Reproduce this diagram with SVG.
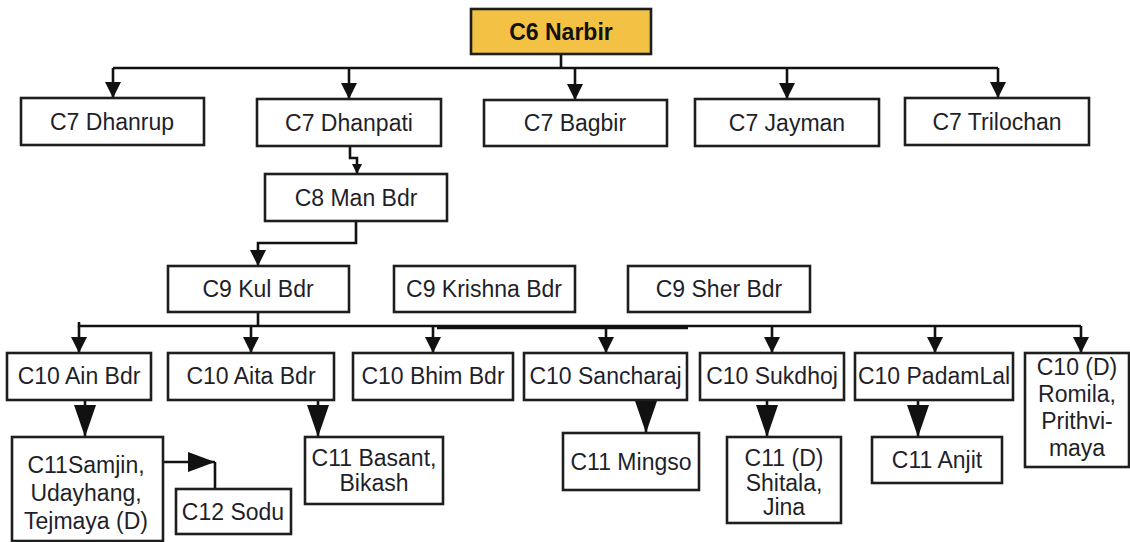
<svg xmlns="http://www.w3.org/2000/svg" width="1130" height="542" viewBox="0 0 1130 542">
<style>
.box{fill:#fff;stroke:#1e1e1e;stroke-width:2.6}
.root{fill:#F3C244;stroke:#1e1e1e;stroke-width:2.6}
.t{font-family:"Liberation Sans",Arial,sans-serif;font-size:23px;fill:#1f1f2a;text-anchor:middle}
.b{font-weight:bold;fill:#111}
.ln{fill:none;stroke:#111;stroke-width:2.6}
</style>
<defs>
<marker id="aM" markerUnits="userSpaceOnUse" markerWidth="16" markerHeight="16" viewBox="0 0 16 16" refX="16" refY="8" orient="auto"><path d="M0,0 L16,8 L0,16 z" fill="#111"/></marker>
<marker id="aS" markerUnits="userSpaceOnUse" markerWidth="10" markerHeight="10" viewBox="0 0 10 10" refX="10" refY="5" orient="auto"><path d="M0,0 L10,5 L0,10 z" fill="#111"/></marker>
<marker id="aL" markerUnits="userSpaceOnUse" markerWidth="32" markerHeight="22" viewBox="0 0 32 22" refX="32" refY="11" orient="auto"><path d="M0,0 L32,11 L0,22 z" fill="#111"/></marker>
<marker id="aR" markerUnits="userSpaceOnUse" markerWidth="27" markerHeight="20" viewBox="0 0 27 20" refX="27" refY="10" orient="auto"><path d="M0,0 L27,10 L0,20 z" fill="#111"/></marker>
</defs>
<rect width="1130" height="542" fill="#fff"/>
<g id="connectors">
<path class="ln" d="M561,54 V68 M113,68 H998"/>
<path class="ln" d="M113,68 V98" marker-end="url(#aM)"/>
<path class="ln" d="M349,68 V99" marker-end="url(#aM)"/>
<path class="ln" d="M575,68 V100" marker-end="url(#aM)"/>
<path class="ln" d="M787,68 V99" marker-end="url(#aM)"/>
<path class="ln" d="M998,68 V98" marker-end="url(#aM)"/>
<path class="ln" d="M350,146 V158 H357 V174" marker-end="url(#aS)"/>
<path class="ln" d="M356,221 V243 H258 V266" marker-end="url(#aM)"/>
<path class="ln" d="M258,312 V326 M79,322 V326 H1081"/>
<path class="ln" d="M437,328 H688" stroke-width="2"/>
<path class="ln" d="M79,326 V353" marker-end="url(#aM)"/>
<path class="ln" d="M251,326 V353" marker-end="url(#aM)"/>
<path class="ln" d="M433,326 V353" marker-end="url(#aM)"/>
<path class="ln" d="M606,326 V353" marker-end="url(#aM)"/>
<path class="ln" d="M772,326 V353" marker-end="url(#aM)"/>
<path class="ln" d="M935,326 V353" marker-end="url(#aM)"/>
<path class="ln" d="M1081,326 V353" marker-end="url(#aM)"/>
<path class="ln" d="M85,400 V437" marker-end="url(#aL)"/>
<path class="ln" d="M318,400 V437" marker-end="url(#aL)"/>
<path class="ln" d="M646,400 V433" marker-end="url(#aL)"/>
<path class="ln" d="M767,400 V437" marker-end="url(#aL)"/>
<path class="ln" d="M918,400 V437" marker-end="url(#aL)"/>
<path class="ln" d="M147,462 H215" marker-end="url(#aR)"/>
<path class="ln" d="M215,462 V489"/>
</g>
<g id="c6-narbir"><rect class="root" x="471" y="9" width="180" height="45"/><text class="t b" x="561" y="40">C6 Narbir</text></g>
<g id="c7-dhanrup"><rect class="box" x="21" y="98" width="183" height="47"/><text class="t" x="112" y="130">C7 Dhanrup</text></g>
<g id="c7-dhanpati"><rect class="box" x="257" y="99" width="184" height="47"/><text class="t" x="349" y="131">C7 Dhanpati</text></g>
<g id="c7-bagbir"><rect class="box" x="484" y="100" width="183" height="46"/><text class="t" x="575" y="131">C7 Bagbir</text></g>
<g id="c7-jayman"><rect class="box" x="695" y="99" width="184" height="47"/><text class="t" x="787" y="131">C7 Jayman</text></g>
<g id="c7-trilochan"><rect class="box" x="905" y="98" width="184" height="47"/><text class="t" x="997" y="130">C7 Trilochan</text></g>
<g id="c8-manbdr"><rect class="box" x="265" y="174" width="182" height="47"/><text class="t" x="356" y="206">C8 Man Bdr</text></g>
<g id="c9-kulbdr"><rect class="box" x="168" y="266" width="181" height="46"/><text class="t" x="258" y="297">C9 Kul Bdr</text></g>
<g id="c9-krishnabdr"><rect class="box" x="394" y="266" width="181" height="46"/><text class="t" x="484" y="297">C9 Krishna Bdr</text></g>
<g id="c9-sherbdr"><rect class="box" x="628" y="266" width="182" height="46"/><text class="t" x="719" y="297">C9 Sher Bdr</text></g>
<g id="c10-ainbdr"><rect class="box" x="7" y="353" width="144" height="47"/><text class="t" x="79" y="384">C10 Ain Bdr</text></g>
<g id="c10-aitabdr"><rect class="box" x="168" y="353" width="166" height="47"/><text class="t" x="251" y="384">C10 Aita Bdr</text></g>
<g id="c10-bhimbdr"><rect class="box" x="353" y="353" width="160" height="47"/><text class="t" x="433" y="384">C10 Bhim Bdr</text></g>
<g id="c10-sancharaj"><rect class="box" x="524" y="353" width="163" height="47"/><text class="t" x="605.5" y="384">C10 Sancharaj</text></g>
<g id="c10-sukdhoj"><rect class="box" x="700" y="353" width="144" height="47"/><text class="t" x="772" y="384">C10 Sukdhoj</text></g>
<g id="c10-padamlal"><rect class="box" x="855" y="353" width="158" height="47"/><text class="t" x="934" y="384">C10 PadamLal</text></g>
<g id="c10-romila"><rect class="box" x="1025" y="353" width="104" height="114"/><text class="t" x="1077" y="375">C10 (D)</text><text class="t" x="1077" y="402">Romila,</text><text class="t" x="1077" y="429">Prithvi-</text><text class="t" x="1077" y="456">maya</text></g>
<g id="c11-samjin"><rect class="box" x="12" y="437" width="151" height="104"/><text class="t" x="86" y="473">C11Samjin,</text><text class="t" x="86" y="501">Udayhang,</text><text class="t" x="86" y="529">Tejmaya (D)</text></g>
<g id="c12-sodu"><rect class="box" x="176" y="489" width="115" height="45"/><text class="t" x="233" y="520">C12 Sodu</text></g>
<g id="c11-basant"><rect class="box" x="305" y="437" width="138" height="67"/><text class="t" x="374" y="466">C11 Basant,</text><text class="t" x="374" y="491">Bikash</text></g>
<g id="c11-mingso"><rect class="box" x="563" y="433" width="136" height="57"/><text class="t" x="631" y="470">C11 Mingso</text></g>
<g id="c11-shitala"><rect class="box" x="727" y="437" width="114" height="86"/><text class="t" x="784" y="466">C11 (D)</text><text class="t" x="784" y="491">Shitala,</text><text class="t" x="784" y="515">Jina</text></g>
<g id="c11-anjit"><rect class="box" x="872" y="437" width="130" height="46"/><text class="t" x="937" y="468">C11 Anjit</text></g>
</svg>
